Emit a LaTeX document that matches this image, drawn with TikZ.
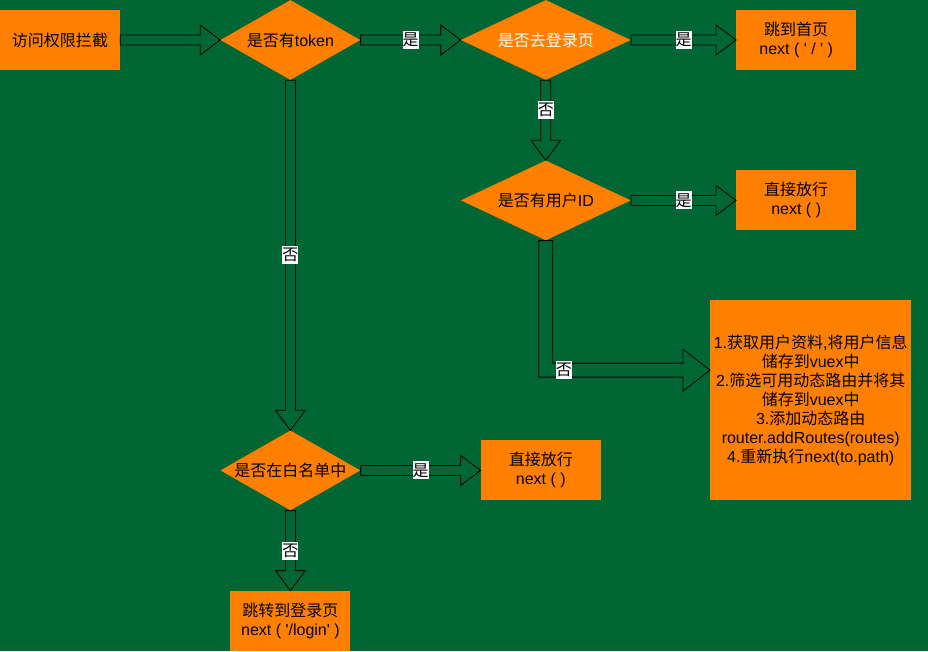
\documentclass[tikz,border=0pt]{standalone}
\usepackage{fontspec}
\setmainfont{Liberation Sans}
\newfontfamily\zhfont{Noto Sans CJK SC}
\usepackage{tikz}
\usetikzlibrary{positioning,calc,shapes.geometric}
\definecolor{bggreen}{HTML}{006633}
\definecolor{boxorange}{HTML}{FF8000}
\newcommand{\zh}[1]{{\zhfont #1}}
% block arrow from #1 to #2
\newcommand{\flexto}[2]{%
 \path ($(#2)!20pt!(#1)$) coordinate (fh);
 \draw[flex] ($(#1)!5pt!90:(#2)$) -- ($(fh)!5pt!90:(#2)$) -- ($(fh)!15pt!90:(#2)$) -- (#2)
  -- ($(fh)!15pt!-90:(#2)$) -- ($(fh)!5pt!-90:(#2)$) -- ($(#1)!5pt!-90:(#2)$) -- cycle;}

\begin{document}
\begin{tikzpicture}[
 x=1pt, y=1pt, font=\fontsize{16}{19}\selectfont,
 box/.style={fill=boxorange, align=center, minimum width=120pt, minimum height=60pt, inner sep=0pt},
 dia/.style={diamond, fill=boxorange, aspect=1.75, minimum width=140pt, minimum height=80pt, inner xsep=-6pt, inner ysep=0pt},
 wide/.style={aspect=2.125, minimum width=170pt},
 flex/.style={draw=black, fill=bggreen, line width=0.8pt, line join=miter},
 tag/.style={fill=white, inner sep=0pt, minimum height=18pt, font=\zhfont\fontsize{16}{19}\selectfont}]
\fill[bggreen] (0,0) rectangle (928,-651);
\node[box] (gate) at (60,-40) {\zh{访问权限拦截}};
\node[dia, right=100pt of gate] (token) {\zh{是否有}token};
\node[dia, wide, right=100pt of token, text=white] (login) {\zh{是否去登录页}};
\node[box, right=105pt of login] (home) {\zh{跳到首页}\\next ( \textquotesingle\ / \textquotesingle\ )};
\node[dia, wide, below=80pt of login] (uid) {\zh{是否有用户}ID};
\node[box, right=105pt of uid] (pass) {\zh{直接放行}\\next ( )};
\node[box, minimum width=201pt, minimum height=200pt, anchor=north west] (init) at (710,-300)
 {1.\zh{获取用户资料},\zh{将用户信息}\\\zh{储存到}vuex\zh{中}\\2.\zh{筛选可用动态路由并将其}\\\zh{储存到}vuex\zh{中}\\3.\zh{添加动态路由}\\router.addRoutes(routes)\\4.\zh{重新执行}next(to.path)};
\node[dia, below=350pt of token] (white) {\zh{是否在白名单中}};
\node[box, right=120pt of white] (free) {\zh{直接放行}\\next ( )};
\node[box, below=80pt of white] (tologin) {\zh{跳转到登录页}\\next ( \textquotesingle/login\textquotesingle\ )};
\coordinate (tgt) at ($(init.north west)!.35!(init.south west)$);

\flexto{gate.east}{token.west}
\flexto{token.east}{login.west}
\flexto{login.east}{home.west}
\flexto{login.south}{uid.north}
\flexto{uid.east}{pass.west}
\flexto{token.south}{white.north}
\flexto{white.east}{free.west}
\flexto{white.south}{tologin.north}
\draw[flex] ($(uid.south)+(-7,0)$) -- ($(uid.south |- tgt)+(-7,-7)$) -- ($(tgt)+(-27,-7)$) -- ($(tgt)+(-27,-21)$) -- (tgt)
 -- ($(tgt)+(-27,21)$) -- ($(tgt)+(-27,7)$) -- ($(uid.south |- tgt)+(7,7)$) -- ($(uid.south)+(7,0)$) -- cycle;

\node[tag] at ($(token.east)!.5!(login.west)$) {是};
\node[tag] at ($(login.east)!.5!(home.west)$) {是};
\node[tag] at ($(login.south)!.375!(uid.north)$) {否};
\node[tag] at ($(uid.east)!.5!(pass.west)$) {是};
\node[tag] at ($(uid.south |- tgt)+(18,0)$) {否};
\node[tag] at ($(token.south)!.5!(white.north)$) {否};
\node[tag] at ($(white.east)!.5!(free.west)$) {是};
\node[tag] at ($(white.south)!.5!(tologin.north)$) {否};
\end{tikzpicture}
\end{document}
